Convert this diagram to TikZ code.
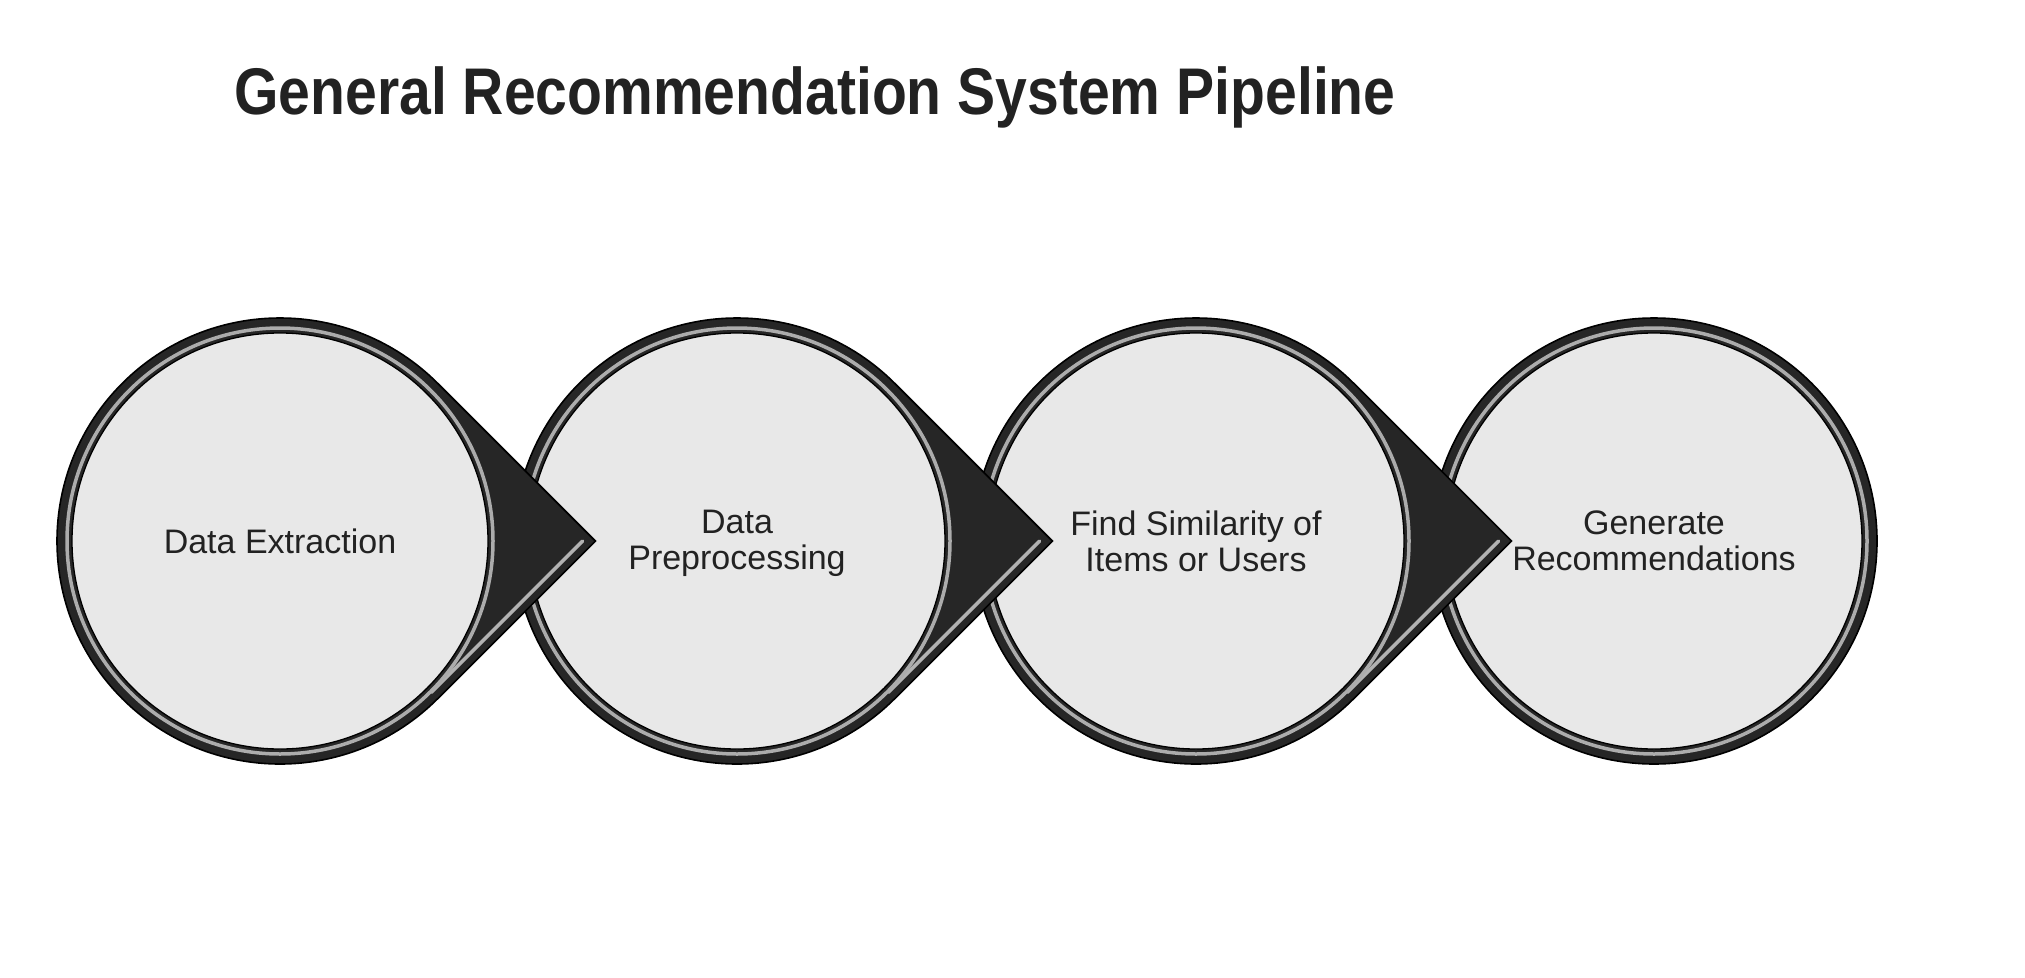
\documentclass[tikz,border=0pt]{standalone}
\usepackage{fontspec}
\setmainfont{Liberation Sans}
\usetikzlibrary{calc}
\definecolor{ringdark}{HTML}{262626}
\definecolor{fillin}{HTML}{E8E8E8}
\definecolor{txt}{HTML}{222222}
\begin{document}
\begin{tikzpicture}[x=1pt,y=1pt]
\useasboundingbox (0,0) rectangle (2025,-977);
\def\R{223}
\tikzset{
  drop/.style={fill=ringdark, draw=black, line width=1.6pt},
  ringhl/.style={draw=gray!65, line width=3.5pt},
  edgehl/.style={draw=gray!60, line width=3.5pt, line cap=round},
  innerdisk/.style={fill=fillin, draw=black, line width=1.3pt},
  lbl/.style={align=center, text=txt, font=\fontsize{34}{36}\selectfont, inner sep=0pt},
  titlestyle/.style={text=txt, font=\fontsize{66}{78}\selectfont\bfseries, inner sep=0pt, anchor=base}
}
\newcommand{\pipedrop}[1]{%
  \path[drop] ($(#1)+(45:\R)$) arc[start angle=45,end angle=315,radius=\R]
     -- ($(#1)+(\R*1.41421,0)$) -- cycle;
  \draw[edgehl] ($(#1)+(-45:214)$) -- ($(#1)+(214*1.41421,0)$);
  \draw[ringhl] (#1) circle[radius=213];
  \path[innerdisk] (#1) circle[radius=208];
}
\coordinate (c1) at (280,-541);
\coordinate (c2) at (737,-541);
\coordinate (c3) at (1196,-541);
\coordinate (c4) at (1654,-541);

% last step: plain circle
\path[drop] (c4) circle[radius=\R];
\draw[ringhl] (c4) circle[radius=213];
\path[innerdisk] (c4) circle[radius=208];

\pipedrop{c3}
\pipedrop{c2}
\pipedrop{c1}

\node[lbl] (t1) at (c1) {Data Extraction};
\node[lbl] (t2) at ($(c2)+(0,-2)$) {Data\\Preprocessing};
\node[lbl] (t3) at (c3) {Find Similarity of\\Items or Users};
\node[lbl] (t4) at (c4) {Generate\\Recommendations};

\node[titlestyle] (title) at (815,-114) {\scalebox{0.865}[1]{General Recommendation System Pipeline}};
\end{tikzpicture}
\end{document}
